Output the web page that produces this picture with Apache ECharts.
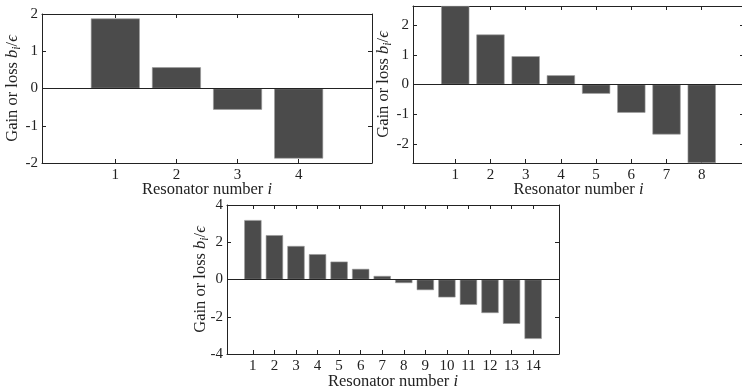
<!DOCTYPE html>
<html>
<head>
<meta charset="utf-8">
<script src="https://cdn.jsdelivr.net/npm/echarts@6/dist/echarts.min.js"></script>
<style>
  html, body { margin: 0; padding: 0; background: #fff; }
  #chart { width: 742px; height: 388px; }
</style>
</head>
<body>
<div id="chart"></div>
<script>
// gain / loss per resonator
const values4 = [1.88, 0.57, -0.57, -1.88]
const values8 = [2.64, 1.68, 0.95, 0.31, -0.31, -0.95, -1.68, -2.64]
const values14 = [3.19, 2.38, 1.8, 1.36, 0.96, 0.57, 0.19, -0.19, -0.57, -0.96, -1.36, -1.8, -2.38, -3.19]

const yTicks4 = [-2, -1, 0, 1, 2]
const yTicks8 = [-2, -1, 0, 1, 2]
const yTicks14 = [-4, -2, 0, 2, 4]

const yLimit4 = 2
const yLimit8 = 2.64
const yLimit14 = 4

const FONT = "'Liberation Serif', 'DejaVu Serif', serif"
const INK = '#222'
const BAR = '#4b4b4b'

const panels = [
  { values: values4, ticks: yTicks4, limit: yLimit4, grid: { left: 42, top: 14, width: 330, height: 149 }, yGap: 19, labelGap: 5, xGap: 18 },
  { values: values8, ticks: yTicks8, limit: yLimit8, grid: { left: 413, top: 6, width: 331, height: 157 }, yGap: 19, labelGap: 5, xGap: 18 },
  { values: values14, ticks: yTicks14, limit: yLimit14, grid: { left: 227, top: 205, width: 332, height: 149 }, yGap: 16, labelGap: 5, xGap: 19 },
]

const option = {
  animation: false,
  backgroundColor: '#fff',
  grid: [],
  xAxis: [],
  yAxis: [],
  series: [],
}

panels.forEach((p, i) => {
  const n = p.values.length
  const cats = p.values.map((_, k) => k + 1)
  const xMin = -0.2
  const xMax = n + 1.2
  const barPx = 0.8 * p.grid.width / (xMax - xMin)

  // keep the plot box where it is even if labels run off the canvas
  option.grid.push(Object.assign({ outerBoundsMode: 'none', containLabel: false }, p.grid))

  const lineStyle = { color: INK, width: 1 }
  // bottom x axis with labels
  option.xAxis.push({
    type: 'value',
    gridIndex: i,
    min: xMin,
    max: xMax,
    position: 'bottom',
    axisLine: { show: true, onZero: false, lineStyle },
    axisTick: { show: true, inside: true, length: 4, lineStyle, customValues: cats },
    axisLabel: { customValues: cats, margin: p.labelGap, color: INK, fontFamily: FONT, fontSize: 15 },
    splitLine: { show: false },
    name: '{t|Resonator number }{m|i}',
    nameLocation: 'middle',
    nameGap: p.xGap,
    nameMoveOverlap: false,
    nameTextStyle: {
      color: INK,
      fontFamily: FONT,
      fontSize: 16.5,
      rich: {
        t: { fontFamily: FONT, fontSize: 16.5, color: INK },
        m: { fontFamily: FONT, fontSize: 16.5, color: INK, fontStyle: 'italic' },
      },
    },
  })
  // top mirror
  option.xAxis.push({
    type: 'value',
    gridIndex: i,
    min: xMin,
    max: xMax,
    position: 'top',
    axisLine: { show: true, onZero: false, lineStyle },
    axisTick: { show: true, inside: true, length: 4, lineStyle, customValues: cats },
    axisLabel: { show: false },
    splitLine: { show: false },
  })
  // left y axis
  option.yAxis.push({
    type: 'value',
    gridIndex: i,
    min: -p.limit,
    max: p.limit,
    position: 'left',
    axisLine: { show: true, onZero: false, lineStyle },
    axisTick: { show: true, inside: true, length: 4, lineStyle, customValues: p.ticks },
    axisLabel: { customValues: p.ticks, margin: 4, color: INK, fontFamily: FONT, fontSize: 15 },
    splitLine: { show: false },
    name: '{t|Gain or loss }{m|b}{s|i}{t|/}{m|ϵ}',
    nameLocation: 'middle',
    nameGap: p.yGap,
    nameRotate: 90,
    nameMoveOverlap: false,
    nameTextStyle: {
      color: INK,
      fontFamily: FONT,
      fontSize: 16.5,
      rich: {
        t: { fontFamily: FONT, fontSize: 16.5, color: INK },
        m: { fontFamily: FONT, fontSize: 16.5, color: INK, fontStyle: 'italic' },
        s: { fontFamily: FONT, fontSize: 11.5, color: INK, fontStyle: 'italic', padding: [8, 0, 0, 0] },
      },
    },
  })
  // right mirror
  option.yAxis.push({
    type: 'value',
    gridIndex: i,
    min: -p.limit,
    max: p.limit,
    position: 'right',
    axisLine: { show: true, onZero: false, lineStyle },
    axisTick: { show: true, inside: true, length: 4, lineStyle, customValues: p.ticks },
    axisLabel: { show: false },
    splitLine: { show: false },
  })

  option.series.push({
    type: 'bar',
    xAxisIndex: i * 2,
    yAxisIndex: i * 2,
    barWidth: barPx,
    data: p.values.map((v, k) => [cats[k], v]),
    itemStyle: { color: BAR, borderColor: '#9a9a9a', borderWidth: 0.6 },
    clip: true,
    silent: true,
    markLine: {
      silent: true,
      symbol: 'none',
      label: { show: false },
      lineStyle: { color: INK, width: 1, type: 'solid' },
      data: [{ yAxis: 0 }],
    },
  })
})

const chart = echarts.init(document.getElementById('chart'), null, { renderer: 'canvas' })
chart.setOption(option)
</script>
</body>
</html>
